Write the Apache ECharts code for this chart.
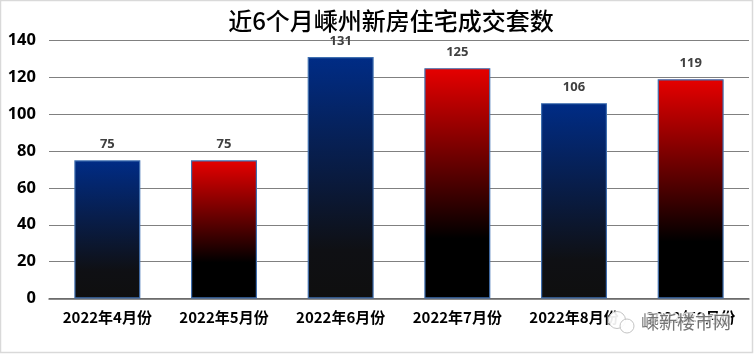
<!DOCTYPE html>
<html>
<head>
<meta charset="utf-8">
<style>
  html, body { margin: 0; padding: 0; background: #fff; }
  #main { width: 754px; height: 357px; }
</style>
<script src="https://cdn.jsdelivr.net/npm/echarts@6/dist/echarts.min.js"></script>
</head>
<body>
<div id="main"></div>
<script>
const categories = ['2022年4月份', '2022年5月份', '2022年6月份', '2022年7月份', '2022年8月份', '2022年9月份'];
const sales = [75, 75, 131, 125, 106, 119];
const titleText = '近6个月嵊州新房住宅成交套数';
const watermarkText = '嵊新楼市网';

const CJK = '"Noto Sans CJK SC", "Noto Sans", sans-serif';
const LATIN = '"Noto Sans", "Liberation Sans", sans-serif';

const blueFill = new echarts.graphic.LinearGradient(0, 0, 0, 1, [
  { offset: 0, color: '#002c86' },
  { offset: 0.8, color: '#0f1014' },
  { offset: 1, color: '#0f0f0f' }
]);
const redFill = new echarts.graphic.LinearGradient(0, 0, 0, 1, [
  { offset: 0, color: '#e60000' },
  { offset: 0.74, color: '#000000' },
  { offset: 1, color: '#000000' }
]);

const chart = echarts.init(document.getElementById('main'), null, { renderer: 'canvas' });

chart.setOption({
  animation: false,
  backgroundColor: '#fff',
  title: {
    text: titleText,
    left: 386,
    top: 4,
    textAlign: 'center',
    textStyle: { fontFamily: CJK, fontSize: 24, fontWeight: 500, color: '#000' }
  },
  grid: { left: 49, right: 5, top: 40.5, bottom: 58.5, containLabel: false },
  xAxis: {
    type: 'category',
    data: categories,
    axisTick: { show: false },
    axisLine: { lineStyle: { color: '#666', width: 1.5 } },
    axisLabel: {
      margin: 11,
      interval: 0,
      fontFamily: CJK,
      fontSize: 15,
      fontWeight: 700,
      color: '#000'
    }
  },
  yAxis: {
    type: 'value',
    min: 0,
    max: 140,
    interval: 20,
    axisLine: { show: false },
    axisTick: { show: false },
    splitLine: { lineStyle: { color: '#808080', width: 1 } },
    axisLabel: {
      margin: 13,
      fontFamily: LATIN,
      fontSize: 16.5,
      fontWeight: 700,
      color: '#000'
    }
  },
  series: [{
    type: 'bar',
    barWidth: 66,
    data: sales.map((v, i) => ({
      value: v,
      itemStyle: { color: i === 0 || i === 2 || i === 4 ? blueFill : redFill }
    })),
    itemStyle: { borderColor: '#3f6fb0', borderWidth: 1.2 },
    label: {
      show: true,
      position: 'top',
      distance: 9,
      fontFamily: LATIN,
      fontSize: 13,
      fontWeight: 700,
      color: '#404040'
    }
  }],
  graphic: [
    // light frame around the picture
    {
      type: 'rect', z: 50, silent: true,
      shape: { x: 0.5, y: 0.5, width: 752, height: 352 },
      style: { fill: 'none', stroke: '#d9d9d9', lineWidth: 1.5 }
    },
    // wechat style watermark in the lower right corner
    { type: 'circle', z: 60, silent: true, shape: { cx: 617, cy: 320, r: 8.5 }, style: { fill: 'rgba(255,255,255,0.92)', stroke: '#c4c4c4', lineWidth: 1 } },
    { type: 'circle', z: 61, silent: true, shape: { cx: 627, cy: 326, r: 7 }, style: { fill: 'rgba(255,255,255,0.92)', stroke: '#c4c4c4', lineWidth: 1 } },
    {
      type: 'text', z: 62, silent: true,
      style: {
        x: 641, y: 313,
        text: watermarkText,
        font: '400 18px ' + CJK,
        fill: 'rgba(110,110,110,0.95)',
        stroke: 'rgba(255,255,255,0.8)',
        lineWidth: 3
      }
    }
  ]
});
</script>
</body>
</html>
